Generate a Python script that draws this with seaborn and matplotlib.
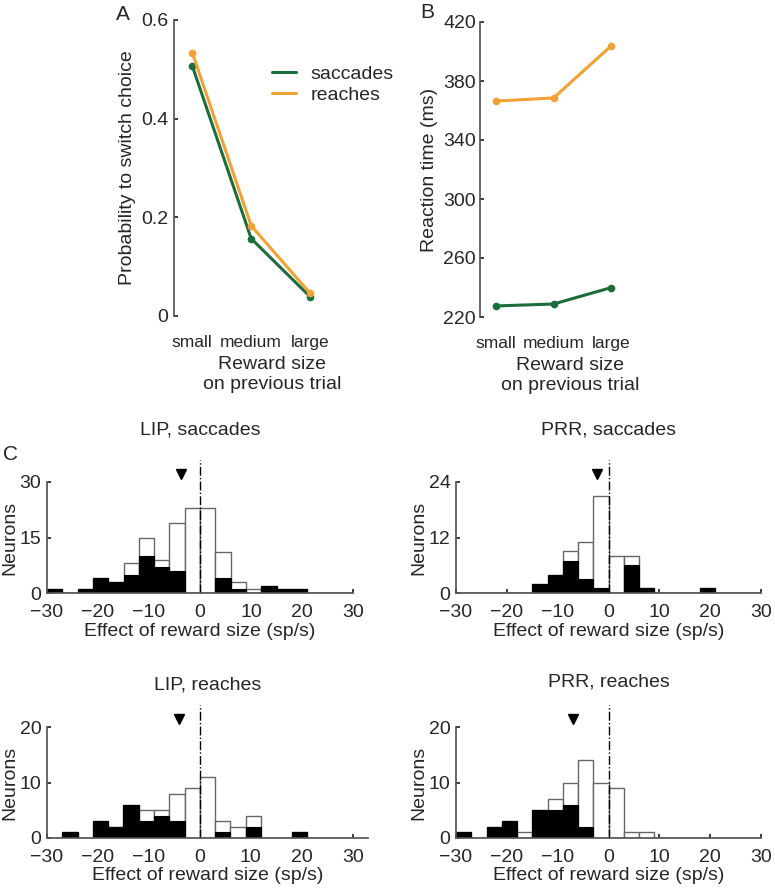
import numpy as np
import pandas as pd
import seaborn as sns
import matplotlib.pyplot as plt

# ---- data ----
reward_sizes = ["small", "medium", "large"]
switch_saccades = [0.507, 0.157, 0.039]
switch_reaches = [0.534, 0.183, 0.046]
rt_saccades = [227.5, 228.8, 239.9]
rt_reaches = [366.4, 368.5, 403.7]

bin_edges = list(range(-30, 31, 3))
# counts per 3 sp/s bin, from -30 to 30 (total = open bars, sig = black bars)
lip_sacc_total = [1, 0, 1, 4, 3, 8, 15, 9, 19, 23, 23, 11, 3, 1, 2, 1, 1, 0, 0, 0]
lip_sacc_sig = [1, 0, 1, 4, 3, 5, 10, 7, 6, 0, 0, 4, 1, 0, 2, 1, 1, 0, 0, 0]
prr_sacc_total = [0, 0, 0, 0, 0, 2, 4, 9, 11, 21, 8, 8, 1, 0, 0, 0, 1, 0, 0, 0]
prr_sacc_sig = [0, 0, 0, 0, 0, 2, 4, 7, 3, 1, 0, 6, 1, 0, 0, 0, 1, 0, 0, 0]
lip_reach_total = [0, 1, 0, 3, 2, 6, 5, 5, 8, 9, 11, 3, 2, 4, 0, 0, 1, 0, 0, 0]
lip_reach_sig = [0, 1, 0, 3, 2, 6, 3, 4, 3, 0, 0, 1, 0, 2, 0, 0, 1, 0, 0, 0]
prr_reach_total = [1, 0, 2, 3, 1, 5, 7, 10, 14, 10, 9, 1, 1, 0, 0, 0, 0, 0, 0, 0]
prr_reach_sig = [1, 0, 2, 3, 0, 5, 5, 6, 2, 0, 0, 0, 0, 0, 0, 0, 0, 0, 0, 0]
mean_effect = {"LIP, saccades": -3.7, "PRR, saccades": -2.3,
               "LIP, reaches": -4.0, "PRR, reaches": -7.0}

green = "#1c6c3c"
orange = "#f0a236"

sns.set_theme(style="ticks")
plt.rcParams["font.family"] = ["Liberation Sans", "DejaVu Sans"]
plt.rcParams["xtick.direction"] = "in"
plt.rcParams["ytick.direction"] = "in"

W, H = 775, 890
fig = plt.figure(figsize=(W / 100, H / 100), dpi=100)


def px_axes(left, top, right, bottom):
    return fig.add_axes([left / W, 1 - bottom / H, (right - left) / W, (bottom - top) / H])


fs = 14
pos = [1, 2, 3]

# ---- panel A ----
dfA = pd.DataFrame({"x": pos * 2,
                    "y": switch_saccades + switch_reaches,
                    "effector": ["saccades"] * 3 + ["reaches"] * 3})
axA = px_axes(174, 20, 370, 316)
sns.lineplot(data=dfA, x="x", y="y", hue="effector", palette=[green, orange],
             marker="o", markersize=5.5, markeredgewidth=0, linewidth=2.2, ax=axA)
axA.set_xlim(0.69, 1 + (370 - 192) / 59)
axA.set_ylim(0, 0.6)
axA.set_yticks([0, 0.2, 0.4, 0.6])
axA.set_yticklabels(["0", "0.2", "0.4", "0.6"])
axA.set_xticks(pos)
axA.set_xticklabels(reward_sizes)
axA.set_xlabel("Reward size\non previous trial", fontsize=fs, labelpad=4)
axA.set_ylabel("Probability to switch choice", fontsize=fs, labelpad=4)
sns.despine(ax=axA, bottom=True)
axA.tick_params(axis="x", length=0, pad=14, labelsize=12.5)
axA.tick_params(axis="y", length=3, labelsize=fs, pad=4)
axA.spines["left"].set_color("#555555")
leg = axA.legend(frameon=False, loc="upper left", bbox_to_anchor=(0.41, 0.907),
                 fontsize=fs, handlelength=1.25, handletextpad=0.75, labelspacing=0.2,
                 title=None)
for h in leg.legend_handles:
    h.set_marker("")
    h.set_linewidth(2.2)

# ---- panel B ----
dfB = pd.DataFrame({"x": pos * 2,
                    "y": rt_saccades + rt_reaches,
                    "effector": ["saccades"] * 3 + ["reaches"] * 3})
axB = px_axes(480, 22, 660, 317)
sns.lineplot(data=dfB, x="x", y="y", hue="effector", palette=[green, orange],
             marker="o", markersize=5.5, markeredgewidth=0, linewidth=2.2, ax=axB,
             legend=False)
axB.set_xlim(1 - 16 / 57.5, 1 + (660 - 496) / 57.5)
axB.set_ylim(220, 420)
axB.set_yticks([220, 260, 300, 340, 380, 420])
axB.set_xticks(pos)
axB.set_xticklabels(reward_sizes)
axB.set_xlabel("Reward size\non previous trial", fontsize=fs, labelpad=4)
axB.set_ylabel("Reaction time (ms)", fontsize=fs, labelpad=4)
sns.despine(ax=axB, bottom=True)
axB.tick_params(axis="x", length=0, pad=14, labelsize=12.5)
axB.tick_params(axis="y", length=3, labelsize=fs, pad=3)
axB.spines["left"].set_color("#555555")

# ---- panel C histograms ----
centers = [e + 1.5 for e in bin_edges[:-1]]
hists = [
    ("LIP, saccades", lip_sacc_total, lip_sacc_sig, (47, 482, 353, 593), 30, 30, [0, 15, 30], 34),
    ("PRR, saccades", prr_sacc_total, prr_sacc_sig, (456, 482, 761, 593), 30, 24, [0, 12, 24], 34),
    ("LIP, reaches", lip_reach_total, lip_reach_sig, (47, 727, 368, 838), 33, 20, [0, 10, 20], 27),
    ("PRR, reaches", prr_reach_total, prr_reach_sig, (456, 727, 761, 838), 30, 20, [0, 10, 20], 29),
]
for title, total, sig, box, xmax, ymax, yt, tpad in hists:
    ax = px_axes(*box)
    sns.histplot(x=centers, weights=total, bins=bin_edges, color="white",
                 edgecolor="#666666", linewidth=1.0, alpha=1, ax=ax)
    sns.histplot(x=centers, weights=sig, bins=bin_edges, color="black",
                 edgecolor="black", linewidth=0.8, alpha=1, ax=ax)
    ax.set_xlim(-30, xmax)
    ax.set_ylim(0, ymax)
    ax.set_xticks([-30, -20, -10, 0, 10, 20, 30])
    ax.set_xticklabels(["\u221230", "\u221220", "\u221210", "0", "10", "20", "30"])
    ax.set_yticks(yt)
    ax.axvline(0, ymin=0, ymax=1.2, color="black", ls="-.", lw=1, clip_on=False)
    ax.plot([mean_effect[title]], [ymax * 1.07], marker="v", color="black",
            markersize=6.5, clip_on=False, ls="none")
    ax.set_title(title, fontsize=fs, pad=tpad)
    ax.set_xlabel("Effect of reward size (sp/s)", fontsize=fs, labelpad=1)
    ax.set_ylabel("Neurons", fontsize=fs, labelpad=1)
    sns.despine(ax=ax)
    ax.tick_params(axis="x", length=3, labelsize=fs, pad=8)
    ax.tick_params(axis="y", length=3, labelsize=fs, pad=4)
    for s in ["left", "bottom"]:
        ax.spines[s].set_color("#555555")

fig.text(123 / W, 1 - 15 / H, "A", fontsize=15, ha="center", va="center")
fig.text(427 / W, 1 - 13 / H, "B", fontsize=15, ha="center", va="center")
fig.text(10 / W, 1 - 454 / H, "C", fontsize=15, ha="center", va="center")

fig.savefig("out.png", dpi=100)
